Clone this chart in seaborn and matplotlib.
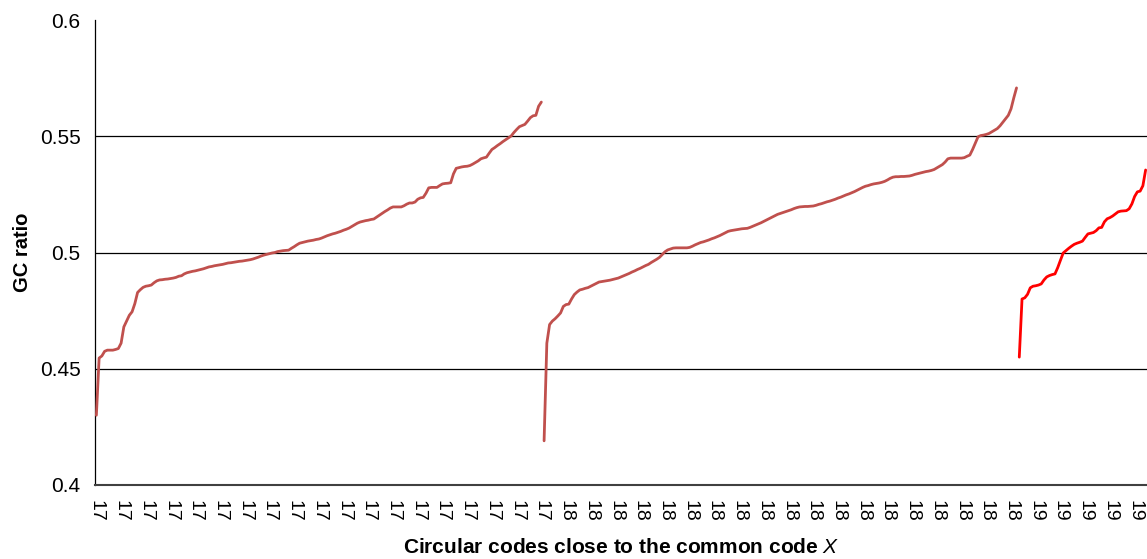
import numpy as np
import pandas as pd
import matplotlib
matplotlib.use("Agg")
import matplotlib.pyplot as plt
import seaborn as sns

# GC ratio of circular codes, sorted within each group (17 / 18 / 19)
gc_17 = [0.430, 0.4546, 0.4555, 0.4575, 0.458, 0.458, 0.458, 0.4583, 0.4587, 0.461,
         0.468, 0.4705, 0.473, 0.4745, 0.478, 0.4828, 0.484, 0.485, 0.4855, 0.4857,
         0.486, 0.487, 0.4878, 0.4882, 0.4883, 0.4885, 0.4886, 0.4888, 0.489, 0.4893,
         0.4898, 0.490, 0.4908, 0.4913, 0.4916, 0.4919, 0.4921, 0.4924, 0.4927, 0.493,
         0.4934, 0.4938, 0.494, 0.4943, 0.4945, 0.4947, 0.4949, 0.4952, 0.4955, 0.4956,
         0.4958, 0.496, 0.4962, 0.4963, 0.4965, 0.4967, 0.4969, 0.4972, 0.4976, 0.498,
         0.4985, 0.4989, 0.4992, 0.4995, 0.4998, 0.500, 0.5004, 0.5006, 0.5008, 0.5009,
         0.501, 0.5018, 0.5025, 0.5033, 0.504, 0.5043, 0.5046, 0.5049, 0.5051, 0.5053,
         0.5056, 0.5058, 0.5062, 0.5067, 0.5072, 0.5076, 0.508, 0.5083, 0.5087, 0.5091,
         0.5096, 0.510, 0.5105, 0.5112, 0.5119, 0.5126, 0.5131, 0.5134, 0.5137, 0.5139,
         0.5142, 0.5144, 0.5152, 0.516, 0.5168, 0.5176, 0.5183, 0.5191, 0.5196, 0.5196,
         0.5196, 0.5196, 0.5201, 0.5208, 0.5213, 0.5213, 0.5217, 0.5229, 0.5235, 0.5237,
         0.5255, 0.5278, 0.528, 0.528, 0.528, 0.5288, 0.5295, 0.5297, 0.5298, 0.530,
         0.5338, 0.5362, 0.5365, 0.5368, 0.537, 0.5371, 0.5374, 0.538, 0.5387, 0.5394,
         0.5403, 0.5407, 0.541, 0.5427, 0.5443, 0.5451, 0.546, 0.5468, 0.5477, 0.5485,
         0.5493, 0.5501, 0.5516, 0.5529, 0.5541, 0.5546, 0.5551, 0.5565, 0.558, 0.5588,
         0.559, 0.5629, 0.5647]

gc_18 = [0.419, 0.461, 0.469, 0.4705, 0.4715, 0.4727, 0.474, 0.4768, 0.4776, 0.4778,
         0.480, 0.4819, 0.483, 0.4839, 0.4842, 0.4846, 0.4849, 0.4855, 0.4861, 0.4867,
         0.4873, 0.4875, 0.4877, 0.4879, 0.4881, 0.4884, 0.4887, 0.489, 0.4895, 0.490,
         0.4905, 0.491, 0.4916, 0.4921, 0.4927, 0.4932, 0.4938, 0.4944, 0.4949, 0.4957,
         0.4964, 0.4971, 0.4979, 0.4991, 0.5003, 0.5011, 0.5015, 0.5019, 0.502, 0.502,
         0.502, 0.502, 0.502, 0.5022, 0.5027, 0.5033, 0.5038, 0.5043, 0.5046, 0.505,
         0.5054, 0.5059, 0.5063, 0.5068, 0.5073, 0.5079, 0.5085, 0.5091, 0.5094, 0.5096,
         0.5098, 0.510, 0.5102, 0.5103, 0.5104, 0.5108, 0.5113, 0.5118, 0.5123, 0.5128,
         0.5134, 0.514, 0.5146, 0.5152, 0.5158, 0.5164, 0.5168, 0.5172, 0.5176, 0.518,
         0.5184, 0.5189, 0.5193, 0.5196, 0.5197, 0.5198, 0.5198, 0.5199, 0.520, 0.5203,
         0.5207, 0.521, 0.5214, 0.5218, 0.5221, 0.5225, 0.5229, 0.5234, 0.5238, 0.5243,
         0.5248, 0.5252, 0.5257, 0.5262, 0.5268, 0.5274, 0.528, 0.5285, 0.5288, 0.5292,
         0.5295, 0.5297, 0.5299, 0.5302, 0.5306, 0.5312, 0.5319, 0.5324, 0.5326, 0.5326,
         0.5327, 0.5327, 0.5328, 0.5329, 0.5332, 0.5336, 0.5339, 0.5342, 0.5345, 0.5348,
         0.535, 0.5353, 0.5357, 0.5364, 0.5371, 0.5378, 0.5389, 0.5403, 0.5406, 0.5406,
         0.5406, 0.5406, 0.5406, 0.5408, 0.5414, 0.5419, 0.5443, 0.547, 0.5498, 0.5503,
         0.5505, 0.5508, 0.5512, 0.5519, 0.5526, 0.5533, 0.5545, 0.556, 0.5575, 0.559,
         0.5618, 0.5665, 0.5708]

gc_19 = [0.455, 0.480, 0.4805, 0.482, 0.4848, 0.4855, 0.4857, 0.486, 0.4865, 0.4882,
         0.4895, 0.4901, 0.4905, 0.4908, 0.4935, 0.4967, 0.4998, 0.5008, 0.5018, 0.5027,
         0.5035, 0.504, 0.5044, 0.5049, 0.5065, 0.508, 0.5083, 0.5086, 0.5094, 0.5106,
         0.5108, 0.5132, 0.5145, 0.515, 0.5157, 0.5166, 0.5175, 0.5178, 0.5179, 0.518,
         0.5188, 0.5209, 0.5241, 0.5261, 0.5264, 0.5287, 0.5355]

groups = ["17", "18", "19"]
colors = {"17": "#C0504D", "18": "#C0504D", "19": "#FF0000"}

# long table: one row per code, category position = row number
frames = []
for g, vals in zip(groups, [gc_17, gc_18, gc_19]):
    frames.append(pd.DataFrame({"group": g, "gc": vals}))
df = pd.concat(frames, ignore_index=True)
df["pos"] = np.arange(len(df))
n = len(df)

sns.set_style("white")
plt.rcParams["font.family"] = ["Liberation Sans", "DejaVu Sans"]
plt.rcParams["mathtext.fontset"] = "custom"
plt.rcParams["mathtext.it"] = "Liberation Sans:italic"
plt.rcParams["text.color"] = "black"
plt.rcParams["axes.labelcolor"] = "black"

fig = plt.figure(figsize=(11.47, 5.59), dpi=100)
ax = fig.add_axes([95 / 1147, 1 - 485 / 559, 1052 / 1147, 465 / 559])

for y in [0.45, 0.5, 0.55]:
    ax.axhline(y, color="black", lw=0.9, zorder=1)

sns.lineplot(data=df, x="pos", y="gc", hue="group", palette=colors,
             estimator=None, legend=False, lw=2.0, ax=ax, zorder=3)

ax.set_xlim(-0.5, n - 1.2)
ax.set_ylim(0.4, 0.6)
ax.set_yticks([0.4, 0.45, 0.5, 0.55, 0.6])
ax.set_yticklabels(["0.4", "0.45", "0.5", "0.55", "0.6"], fontsize=15)

# category labels every 9th code, tick marks between every category
lab_pos = np.arange(0, n, 9)
ax.set_xticks(lab_pos)
ax.set_xticklabels(df["group"].iloc[lab_pos], rotation=-90, fontsize=14)
ax.set_xticks(np.arange(-0.5, n, 1), minor=True)
ax.tick_params(axis="x", which="major", length=0, pad=11, labelcolor="black")
ax.tick_params(axis="x", which="minor", length=4, width=0.8, color="#404040", direction="out")
ax.tick_params(axis="y", length=4.5, width=0.9, color="black", direction="out", pad=6,
               labelcolor="black")

for s in ["top", "right"]:
    ax.spines[s].set_visible(False)
ax.spines["left"].set_color("black")
ax.spines["left"].set_linewidth(0.9)
ax.spines["bottom"].set_color("#404040")
ax.spines["bottom"].set_linewidth(1.5)

ax.set_ylabel("GC ratio", fontsize=14.5, fontweight="bold")
ax.yaxis.set_label_coords(-0.06, 0.5)
ax.set_xlabel(r"Circular codes close to the common code $\mathit{X}$", fontsize=15, fontweight="bold")
ax.xaxis.set_label_coords(0.5, -0.115)

fig.savefig("out.png", dpi=100)
